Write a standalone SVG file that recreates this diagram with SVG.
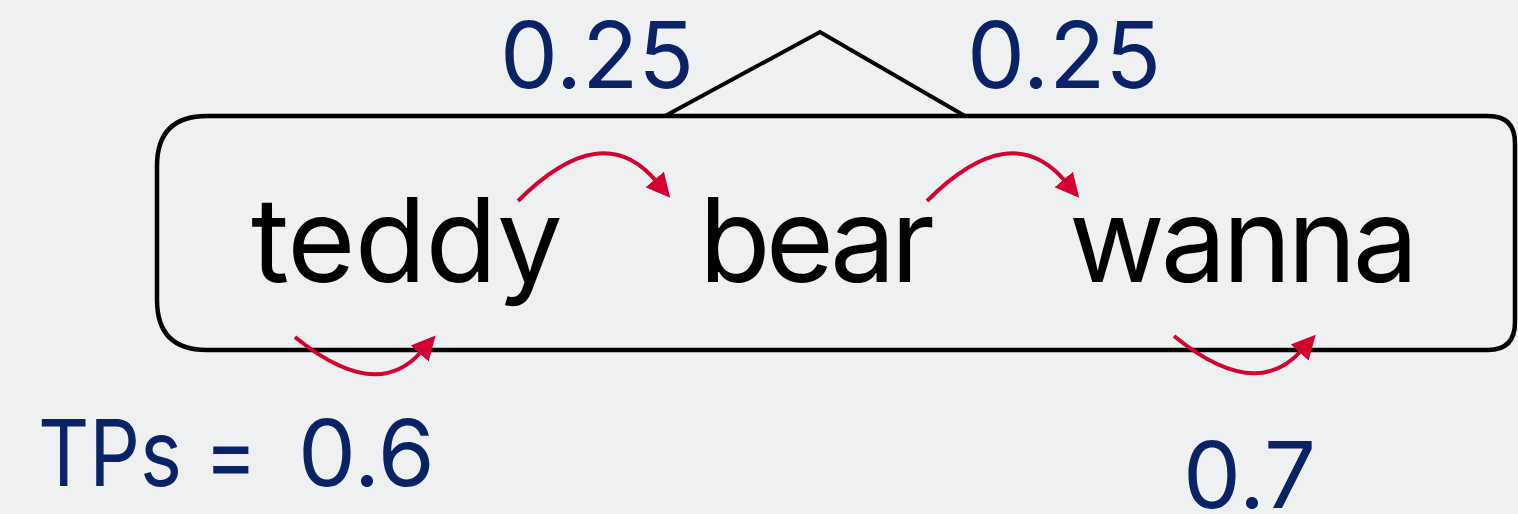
<svg xmlns="http://www.w3.org/2000/svg" width="1518" height="514" viewBox="0 0 1518 514">
  <style>
    .word { font-family: Inter, "Liberation Sans", sans-serif; font-size: 117px; fill: #000000; }
    .num { font-family: Inter, "Liberation Sans", sans-serif; font-size: 92px; fill: #0a2366; }
    .frame { fill: none; stroke: #000000; stroke-width: 4.5; }
    .tri { fill: none; stroke: #000000; stroke-width: 4; stroke-linejoin: miter; }
    .tp { fill: none; stroke: #d50032; stroke-width: 4; marker-end: url(#head); }
  </style>
  <defs>
    <marker id="head" markerUnits="userSpaceOnUse" markerWidth="26" markerHeight="26" refX="2" refY="12" orient="auto" viewBox="0 0 26 24">
      <path d="M0,0 L24,12 L0,24 z" fill="#d50032"/>
    </marker>
  </defs>
  <rect width="1518" height="514" fill="#eff0f2"/>

  <!-- chunk frame with the split triangle above it -->
  <g id="chunk">
    <path class="frame" d="M207,116 H1488 Q1515,116 1515,143 V322 Q1515,350 1488,350 H207 Q157,350 157,300 V166 Q157,116 207,116 Z"/>
    <polyline class="tri" points="665,116 820,32 965,116"/>
  </g>

  <g id="w-teddy"><text class="word" x="251" y="282" letter-spacing="-0.8">teddy</text></g>
  <g id="w-bear"><text class="word" x="699" y="282" letter-spacing="-5">bear</text></g>
  <g id="w-wanna"><text class="word" x="1069" y="282" letter-spacing="-4">wanna</text></g>

  <g id="lbl-left"><text class="num" x="500" y="88">0.25</text></g>
  <g id="lbl-right"><text class="num" x="967" y="88">0.25</text></g>
  <g id="lbl-tps"><text class="num" x="38" y="486" textLength="219" lengthAdjust="spacingAndGlyphs">TPs =</text><text class="num" x="298" y="486">0.6</text></g>
  <g id="lbl-07"><text class="num" x="1183" y="508">0.7</text></g>

  <!-- transitional-probability arrows -->
  <g id="connectors">
    <path class="tp" d="M518,201 Q602,117 656,181"/>
    <path class="tp" d="M927,201 Q1011,117 1065,181"/>
    <path class="tp" d="M295,337 Q376,403 421,352"/>
    <path class="tp" d="M1174,336 Q1255,402 1301,351"/>
  </g>
</svg>
